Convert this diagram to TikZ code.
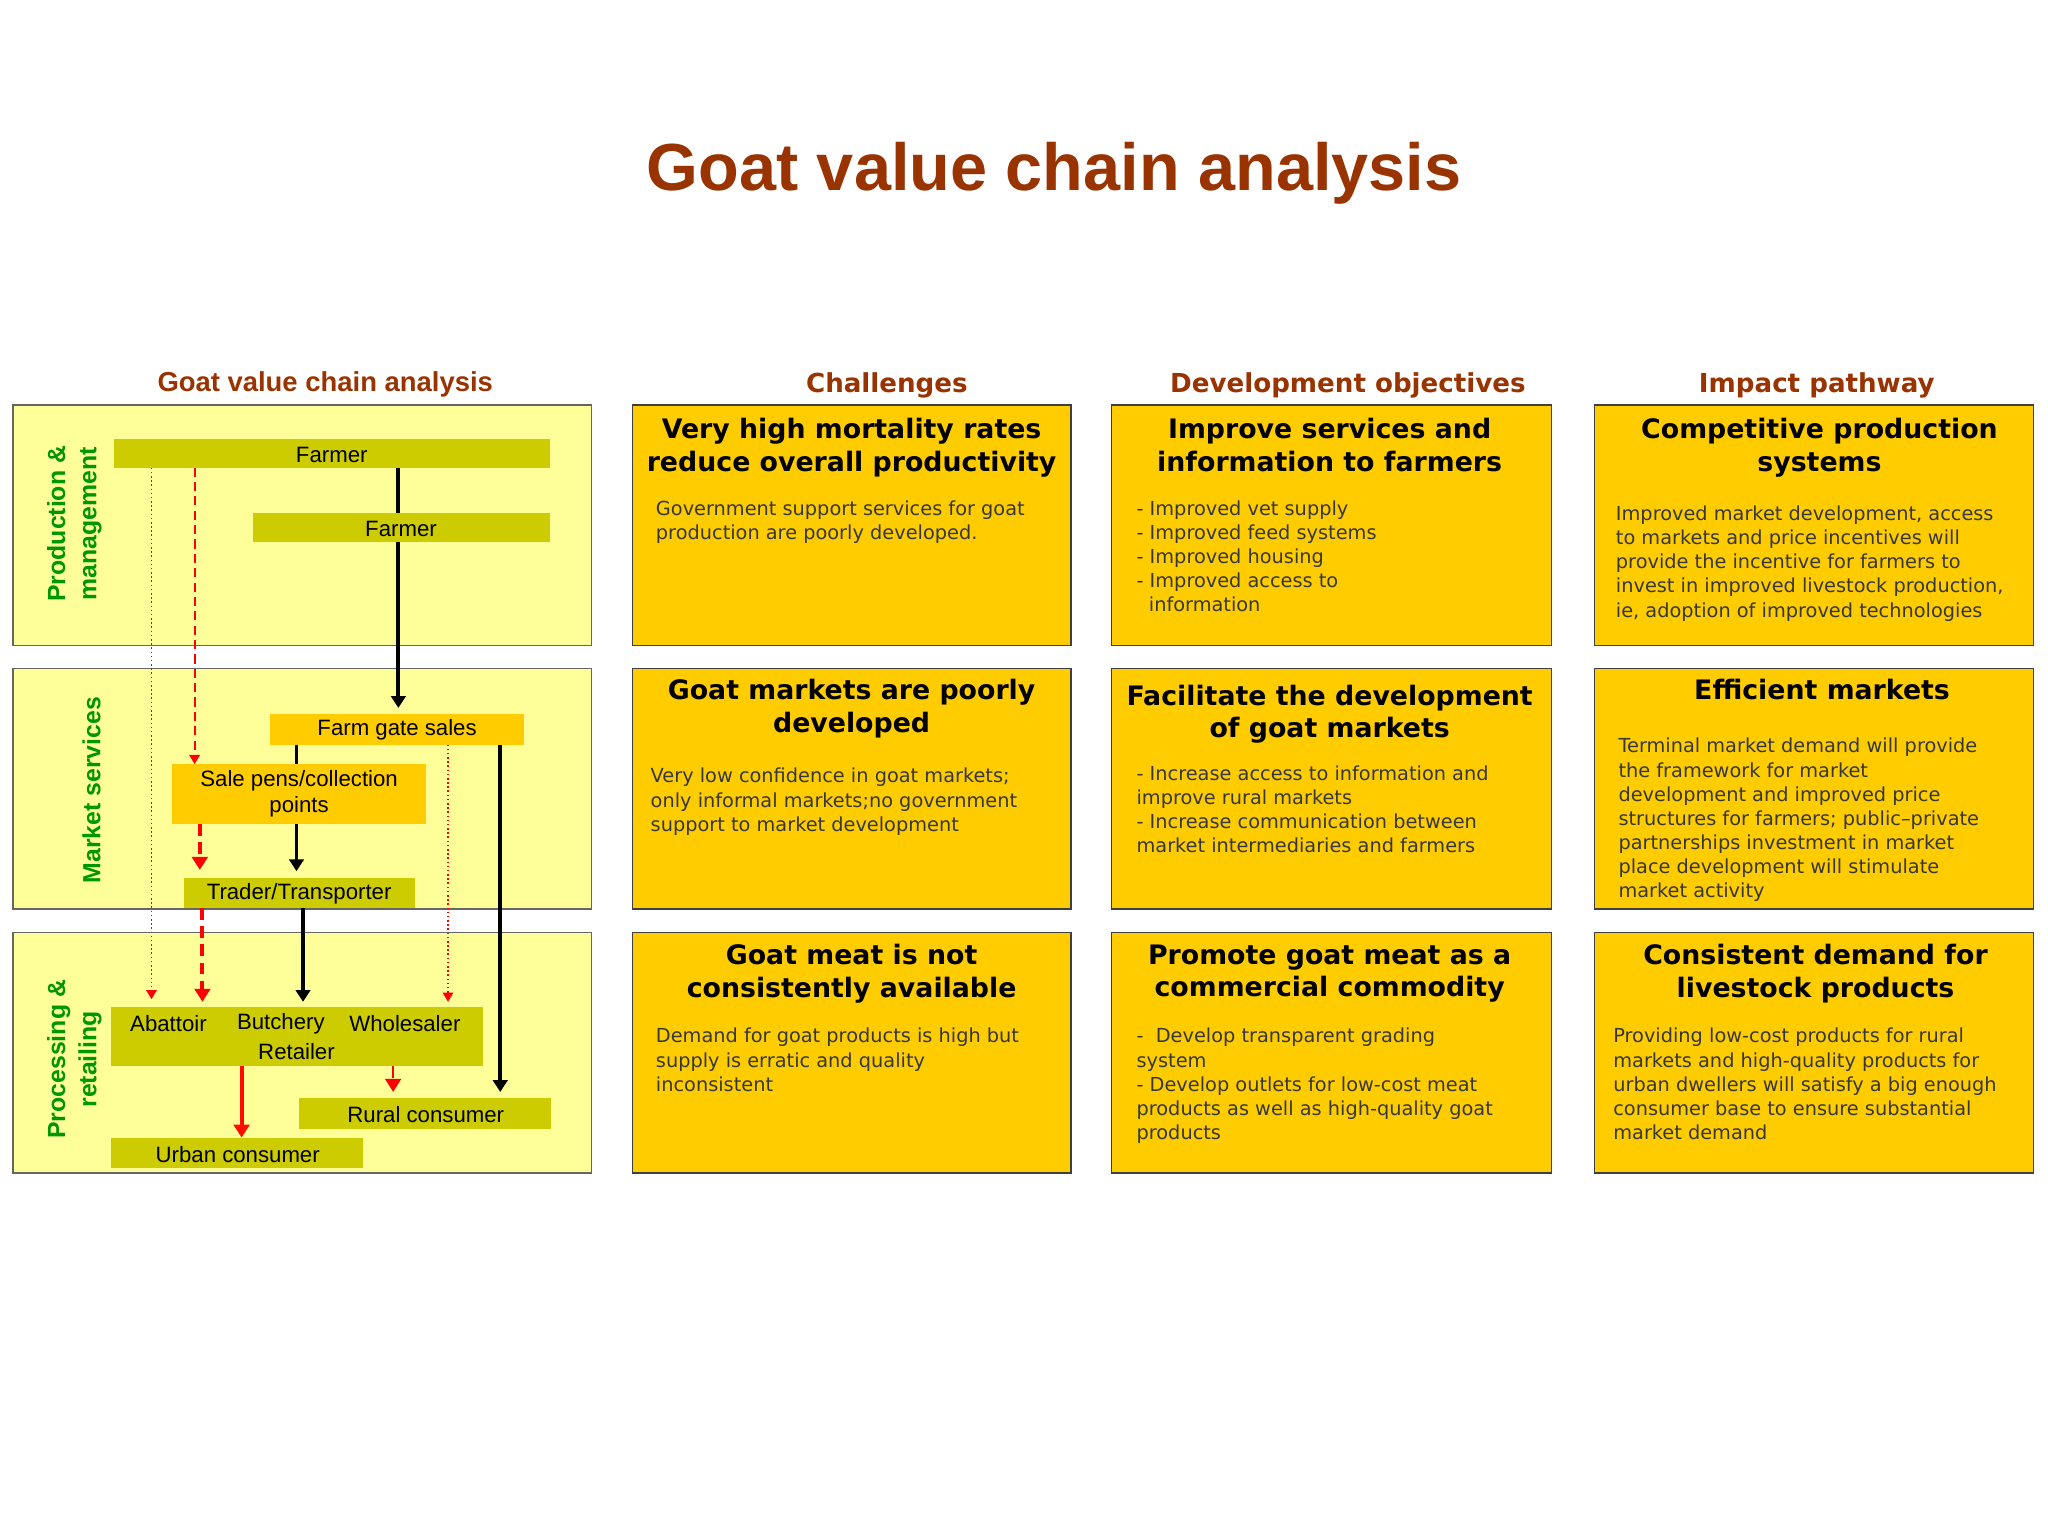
\documentclass[tikz,border=0pt]{standalone}
\usepackage{fontspec}
\setmainfont{DejaVu Sans}
\newfontfamily\arialf{Liberation Sans}
\usetikzlibrary{arrows.meta}
\definecolor{brn}{RGB}{153,51,0}
\definecolor{lyel}{RGB}{255,255,153}
\definecolor{gold}{RGB}{255,204,0}
\definecolor{olive}{RGB}{204,204,0}
\definecolor{grn}{RGB}{0,150,0}
\definecolor{txt}{RGB}{55,55,55}
\pgfdeclarelayer{bg}\pgfdeclarelayer{arr}
\pgfsetlayers{bg,arr,main}
\begin{document}
\begin{tikzpicture}[x=1pt,y=-1pt,
 panel/.style={draw=black!60,line width=1pt,fill=lyel},
 cbox/.style={draw=black!75,line width=1pt,fill=gold},
 lbl/.style={font=\arialf\fontsize{17}{20}\selectfont,inner sep=0,align=center},
 ol/.style={fill=olive},
 gd/.style={fill=gold},
 hdr/.style={font=\fontsize{20}{21}\selectfont\bfseries,text=brn},
 head/.style={font=\fontsize{20.5}{25}\selectfont\bfseries,align=center,anchor=north,inner sep=0},
 body/.style={font=\fontsize{14.8}{18.5}\selectfont,text=txt,align=left,anchor=north west,inner sep=0},
 side/.style={font=\arialf\fontsize{19}{24}\selectfont\bfseries,text=grn,rotate=90,align=center},
 blk/.style={line width=3pt,-{Triangle[length=9pt,width=11pt]}},
 rdot/.style={red,line width=1.2pt,dotted,-{Triangle[length=7pt,width=8pt]}},
 rdash/.style={red,line width=1.5pt,dash pattern=on 7pt off 4pt,-{Triangle[length=7pt,width=8pt]}},
 rthick/.style={red,line width=3pt,dash pattern=on 9pt off 5pt,-{Triangle[length=10pt,width=12pt]}},
]
\useasboundingbox (0,0) rectangle (1568,1176);
\node[font=\arialf\fontsize{51}{58}\selectfont\bfseries,text=brn] (title) at (807,133) {Goat value chain analysis};
\node[hdr,font=\arialf\fontsize{21}{22}\selectfont\bfseries] (h1) at (249,294) {Goat value chain analysis};
\node[hdr] (h2) at (679,295) {Challenges};
\node[hdr] (h3) at (1032,295) {Development objectives};
\node[hdr] (h4) at (1391,295) {Impact pathway};
\begin{pgfonlayer}{bg}
\fill[white] (0,0) rectangle (1568,1176);
\foreach \t/\b in {310/494,512/696,714/898}{
 \draw[panel] (10,\t) rectangle (453,\b);
 \draw[cbox] (484,\t) rectangle (820,\b);
 \draw[cbox] (851,\t) rectangle (1188,\b);
 \draw[cbox] (1221,\t) rectangle (1557,\b);}
\end{pgfonlayer}
\node[side] (s1) at (57,401) {Production \&\\management};
\node[side] (s2) at (70,605) {Market services};
\node[side] (s3) at (57,811) {Processing \&\\retailing};
% left nodes
\path[ol] (87,336) rectangle (421,358); \node[lbl] (f1) at (254,348) {Farmer};
\path[ol] (194,393) rectangle (421,415); \node[lbl] (f2) at (307,405) {Farmer};
\path[gd] (207,547) rectangle (401,570); \node[lbl] (fg) at (304,559) {Farm gate sales};
\path[gd] (132,585) rectangle (326,631); \node[lbl] (sp) at (229,608) {Sale pens/collection\\points};
\path[ol] (141,672) rectangle (318,695); \node[lbl] (tr) at (229,684) {Trader/Transporter};
\path[ol] (85,771) rectangle (370,816);
\node[lbl] (ab) at (129,784) {Abattoir};
\node[lbl] (bu) at (215,784) {Butchery};
\node[lbl] (wh) at (310,784) {Wholesaler};
\node[lbl] (re) at (227,805) {Retailer};
\path[ol] (229,841) rectangle (422,864); \node[lbl] (rc) at (326,853) {Rural consumer};
\path[ol] (85,871) rectangle (278,894); \node[lbl] (uc) at (182,884) {Urban consumer};
\begin{pgfonlayer}{arr}
\draw[blk] (305,356) -- (305,542);
\draw[rdot] (116,358) -- (116,765);
\draw[rdash] (149,358) -- (149,585);
\draw[rthick] (153,631) -- (153,666);
\draw[blk] (227,570) -- (227,667);
\draw[rthick] (155,695) -- (155,767);
\draw[blk] (232,695) -- (232,767);
\draw[rdot] (343,570) -- (343,767);
\draw[blk] (383,570) -- (383,836);
\draw[red!90!orange,line width=3pt,-{Triangle[length=10pt,width=12pt]}] (185,816) -- (185,871);
\draw[rthick,line width=2pt] (301,816) -- (301,836);
\end{pgfonlayer}
% column texts
\node[head] (c1) at (652,320) {Very high mortality rates\\reduce overall productivity};
\node[body] (c1b) at (502,383) {Government support services for goat\\production are poorly developed.};
\node[head] (c2) at (652,520) {Goat markets are poorly\\developed};
\node[body] (c2b) at (498,588) {Very low confidence in goat markets;\\only informal markets;no government\\support to market development};
\node[head] (c3) at (652,723) {Goat meat is not\\consistently available};
\node[body] (c3b) at (502,787) {Demand for goat products is high but\\supply is erratic and quality\\inconsistent};
\node[head] (d1) at (1018,320) {Improve services and\\information to farmers};
\node[body] (d1b) at (870,383) {- Improved vet supply\\- Improved feed systems\\- Improved housing\\- Improved access to\\\ \ information};
\node[head] (d2) at (1018,524) {Facilitate the development\\of goat markets};
\node[body] (d2b) at (870,586) {- Increase access to information and\\improve rural markets\\- Increase communication between\\market intermediaries and farmers};
\node[head] (d3) at (1018,723) {Promote goat meat as a\\commercial commodity};
\node[body] (d3b) at (870,787) {-\ \ Develop transparent grading\\system\\- Develop outlets for low-cost meat\\products as well as high-quality goat\\products};
\node[head] (i1) at (1393,320) {Competitive production\\systems};
\node[body] (i1b) at (1237,387) {Improved market development, access\\to markets and price incentives will\\provide the incentive for farmers to\\invest in improved livestock production,\\ie, adoption of improved technologies};
\node[head] (i2) at (1395,520) {Efficient markets};
\node[body] (i2b) at (1239,565) {Terminal market demand will provide\\the framework for market\\development and improved price\\structures for farmers; public–private\\partnerships investment in market\\place development will stimulate\\market activity};
\node[head] (i3) at (1390,723) {Consistent demand for\\livestock products};
\node[body] (i3b) at (1235,787) {Providing low-cost products for rural\\markets and high-quality products for\\urban dwellers will satisfy a big enough\\consumer base to ensure substantial\\market demand};
\end{tikzpicture}
\end{document}
